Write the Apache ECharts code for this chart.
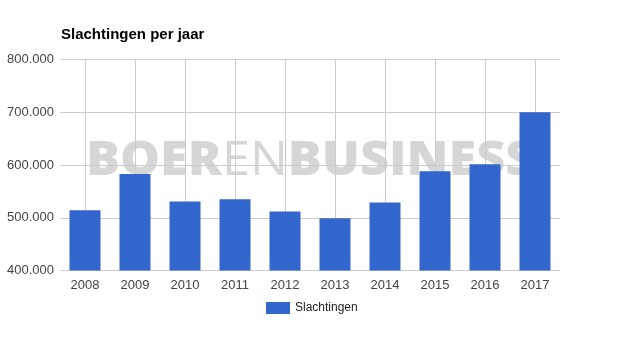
<!DOCTYPE html>
<html><head><meta charset="utf-8">
<script src="https://cdn.jsdelivr.net/npm/echarts@6/dist/echarts.min.js"></script>
<style>html,body{margin:0;padding:0;background:#fff}#c{width:625px;height:350px}</style>
</head><body><div id="c"></div>
<script>
const categories = ['2008','2009','2010','2011','2012','2013','2014','2015','2016','2017'];
const slachtingen = [514000, 583000, 531000, 535000, 512000, 499000, 529000, 588000, 601500, 700000];
const seriesName = 'Slachtingen';
const titleText = 'Slachtingen per jaar';

const chart = echarts.init(document.getElementById('c'), null, {renderer:'canvas'});
chart.setOption({
  animation:false,
  backgroundColor:'#fff',
  title:{text:titleText,left:56,top:22,textStyle:{fontFamily:'Liberation Sans',fontSize:15,fontWeight:'bold',color:'#000'}},
  graphic:[{type:'text',left:86,top:137,z:-1,silent:true,scaleX:1.05,
    style:{text:'{b|BOER}{l|EN}{b|BUSINESS}',
      rich:{b:{fontFamily:'Open Sans',fontWeight:800,fontSize:48,fill:'#d6d6d6',color:'#d6d6d6'},
            l:{fontFamily:'Open Sans',fontWeight:500,fontSize:48,fill:'#d6d6d6',color:'#d6d6d6'}}}}],
  grid:{left:60,right:65,top:59.5,bottom:79.5,containLabel:false},
  legend:{bottom:31,left:261,itemWidth:24,itemHeight:12,itemGap:10,icon:'rect',
    textStyle:{fontFamily:'Liberation Sans',fontSize:12,color:'#222'},data:[seriesName]},
  xAxis:{type:'category',data:categories,
    axisLine:{show:false},axisTick:{show:false,alignWithLabel:true},
    axisLabel:{fontFamily:'Liberation Sans',fontSize:13,color:'#444',margin:8},
    splitLine:{show:true,alignWithLabel:true,lineStyle:{color:'#cccccc',width:1}}},
  yAxis:{type:'value',min:400000,max:800000,interval:100000,
    axisLine:{show:false},axisTick:{show:false},
    axisLabel:{fontFamily:'Liberation Sans',fontSize:13,color:'#444',margin:6,
      formatter:v=>String(v).replace(/\B(?=(\d{3})+(?!\d))/g,'.')},
    splitLine:{lineStyle:{color:'#cccccc',width:1}}},
  series:[{name:seriesName,type:'bar',data:slachtingen,barWidth:31,itemStyle:{color:'#3366cc'}}]
});
</script></body></html>
